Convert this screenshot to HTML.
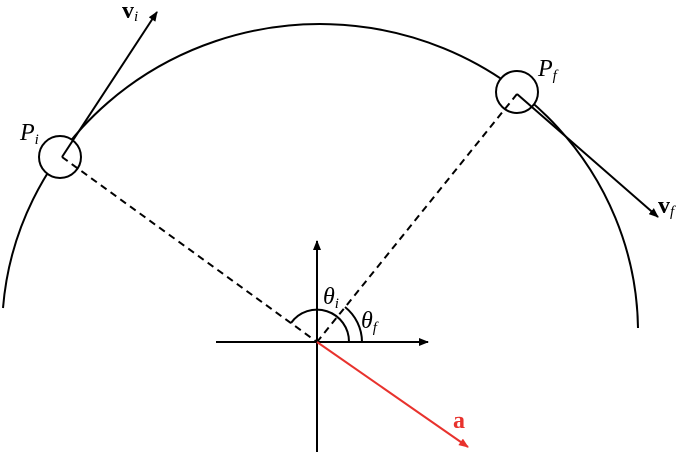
<!DOCTYPE html>
<html><head><meta charset="utf-8"><style>html,body{margin:0;padding:0;background:#fff}svg{display:block}</style></head>
<body>
<svg width="688" height="454" viewBox="0 0 688 454" xmlns="http://www.w3.org/2000/svg">
<defs>
<marker id="ah" markerWidth="10" markerHeight="8" refX="9" refY="4" orient="auto" markerUnits="userSpaceOnUse"><path d="M0,0 L10,4 L0,8 Z" fill="#000"/></marker>
<marker id="ar" markerWidth="10" markerHeight="8" refX="9" refY="4" orient="auto" markerUnits="userSpaceOnUse"><path d="M0,0 L10,4 L0,8 Z" fill="#e8322d"/></marker>
</defs>
<g fill="none" stroke="#000" stroke-width="2">
<path d="M3,308 A318,308 0 0 1 638,328"/>
<circle cx="60" cy="157" r="21" fill="#fff"/>
<circle cx="517" cy="92" r="21" fill="#fff"/>
<line x1="62" y1="157" x2="317" y2="342" stroke-dasharray="7,5"/>
<line x1="517" y1="94" x2="317" y2="342" stroke-dasharray="7,5"/>
<line x1="62" y1="157" x2="157" y2="12" marker-end="url(#ah)"/>
<line x1="517" y1="94" x2="658" y2="217" marker-end="url(#ah)"/>
<line x1="216" y1="342" x2="428" y2="342" marker-end="url(#ah)"/>
<line x1="317" y1="452" x2="317" y2="241" marker-end="url(#ah)"/>
<path d="M349,342 A32,32 0 0 0 291,323"/>
<path d="M362,342 A45,45 0 0 0 345,307"/>
</g>
<line x1="317" y1="342" x2="468" y2="447" stroke="#e8322d" stroke-width="2" marker-end="url(#ar)"/>
<g font-family="Liberation Serif, serif" font-style="italic" font-size="24">
<text x="20" y="140">P<tspan font-size="15" dy="4">i</tspan></text>
<text x="538" y="76">P<tspan font-size="15" dy="4">f</tspan></text>
<text x="323" y="304">θ<tspan font-size="15" dy="4">i</tspan></text>
<text x="361" y="328">θ<tspan font-size="15" dy="4">f</tspan></text>
</g>
<g font-family="Liberation Serif, serif" font-weight="bold" font-size="24">
<text x="122" y="18">v<tspan font-size="15" font-style="italic" font-weight="normal" dy="3">i</tspan></text>
<text x="658" y="213">v<tspan font-size="15" font-style="italic" font-weight="normal" dy="3">f</tspan></text>
<text x="453" y="428" fill="#e8322d">a</text>
</g>
</svg>
</body></html>
